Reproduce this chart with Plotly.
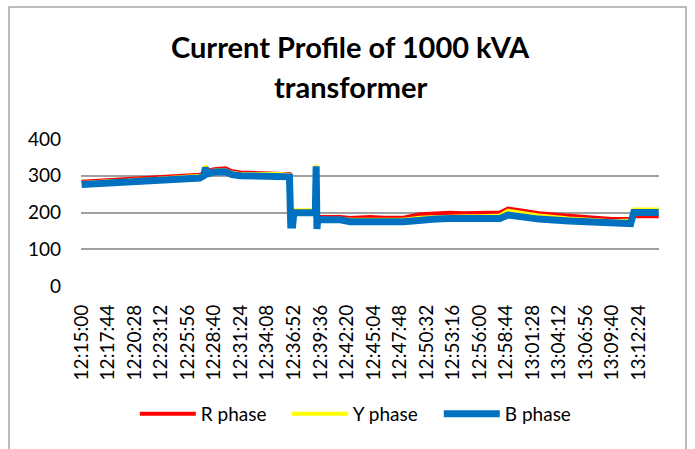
import pandas as pd
import plotly.graph_objects as go

# Readings taken off the chart (time of day, current in A)
TIMES = [
    "12:15:00", "12:16:20", "12:17:44", "12:18:48", "12:19:40", "12:20:28",
    "12:21:50", "12:23:12", "12:24:30", "12:25:56", "12:27:10", "12:27:35",
    "12:27:45", "12:27:55", "12:28:40", "12:29:50", "12:30:30", "12:31:24",
    "12:32:50", "12:34:08", "12:35:30", "12:36:15", "12:36:25", "12:36:33",
    "12:36:45", "12:36:52", "12:38:00", "12:39:05", "12:39:10", "12:39:15",
    "12:39:20", "12:40:30", "12:41:40", "12:42:40", "12:44:44", "12:46:10",
    "12:48:10", "12:49:52", "12:51:30", "12:52:58", "12:54:30", "12:56:03",
    "12:58:06", "12:58:56", "13:00:05", "13:02:08", "13:05:13", "13:08:18",
    "13:09:38", "13:11:35", "13:11:54", "13:13:10", "13:14:28",
]
R_PHASE = [
    284, 286, 288, 288, 290, 292,
    293, 295, 297, 300, 303, 307,
    326, 314, 318, 320, 312, 309,
    308, 308, 307, 305, 304, 170,
    170, 198, 198, 198, 320, 160,
    188, 188, 188, 185, 188, 186,
    186, 195, 197, 199, 198, 198,
    200, 211, 207, 198, 191, 184,
    182, 182, 190, 190, 190,
]
Y_PHASE = [
    280, 283, 285, 284, 287, 289,
    290, 292, 294, 296, 300, 305,
    328, 310, 314, 315, 308, 305,
    304, 305, 305, 303, 302, 168,
    168, 206, 206, 206, 330, 158,
    184, 183, 183, 180, 181, 180,
    180, 186, 188, 190, 190, 190,
    192, 205, 200, 192, 184, 178,
    176, 178, 208, 208, 208,
]
B_PHASE = [
    276, 278, 280, 277, 282, 284,
    283, 287, 289, 291, 294, 300,
    322, 305, 310, 311, 303, 300,
    299, 300, 300, 298, 297, 166,
    166, 199, 199, 199, 326, 155,
    181, 180, 180, 175, 177, 175,
    175, 180, 182, 184, 183, 182,
    184, 193, 189, 182, 177, 173,
    169, 170, 200, 200, 200,
]
TICK_LABELS = [
    "12:15:00", "12:17:44", "12:20:28", "12:23:12", "12:25:56", "12:28:40",
    "12:31:24", "12:34:08", "12:36:52", "12:39:36", "12:42:20", "12:45:04",
    "12:47:48", "12:50:32", "12:53:16", "12:56:00", "12:58:44", "13:01:28",
    "13:04:12", "13:06:56", "13:09:40", "13:12:24",
]
Y_TICKS = [0, 100, 200, 300, 400]

DAY = "2024-01-01 "
W, H = 695, 449
L, R, T, B = 81, 36, 139, 163

x = pd.to_datetime([DAY + t for t in TIMES])
tick_x = pd.to_datetime([DAY + t for t in TICK_LABELS])

fig = go.Figure()
series = [("R phase", R_PHASE, "#FF0000", 4),
          ("Y phase", Y_PHASE, "#FFFF00", 4),
          ("B phase", B_PHASE, "#0070C0", 7)]
for name, vals, color, width in series:
    fig.add_trace(go.Scatter(x=x, y=vals, name=name, mode="lines",
                             line=dict(color=color, width=width)))

# chart border (figure pixel coords -> paper coords)
pw, ph = W - L - R, H - T - B
fig.add_shape(type="rect", xref="paper", yref="paper",
              x0=(9 - L) / pw, x1=(686 - L) / pw,
              y0=(H - B - 455) / ph, y1=(H - B - 7) / ph,
              line=dict(color="#A6A6A6", width=1.5), layer="below")

title_font = dict(family="Lato", size=29, color="black")
fig.add_annotation(text="<b>Current Profile of 1000 kVA</b>", xref="paper", yref="paper",
                   x=(350 - L) / pw, y=(H - B - 46) / ph, showarrow=False,
                   font=title_font, xanchor="center", yanchor="middle")
fig.add_annotation(text="<b>transformer</b>", xref="paper", yref="paper",
                   x=(350 - L) / pw, y=(H - B - 86) / ph, showarrow=False,
                   font=title_font, xanchor="center", yanchor="middle")

fig.update_layout(
    width=W, height=H,
    margin=dict(l=L, r=R, t=T, b=B),
    plot_bgcolor="white", paper_bgcolor="white",
    font=dict(family="Lato", size=19, color="black"),
    showlegend=True,
    legend=dict(orientation="h", xref="container", yref="container",
                x=0.522, y=1 - 414 / H, xanchor="center", yanchor="middle",
                itemwidth=56, entrywidth=81, font=dict(size=19)),
)
fig.update_xaxes(type="date", range=[DAY + "12:14:56", DAY + "13:14:30"],
                 tickvals=tick_x, ticktext=TICK_LABELS, tickangle=-90,
                 showgrid=False, showline=False, zeroline=False,
                 ticklabelstandoff=14)
fig.update_yaxes(range=[0, 400], tickvals=Y_TICKS, gridcolor="#A0A0A0",
                 gridwidth=1.5, zeroline=False, showline=False,
                 ticklabelstandoff=19)

fig.write_html("out.html", config={"displayModeBar": False},
               post_script="document.body.style.margin = '0px';")
